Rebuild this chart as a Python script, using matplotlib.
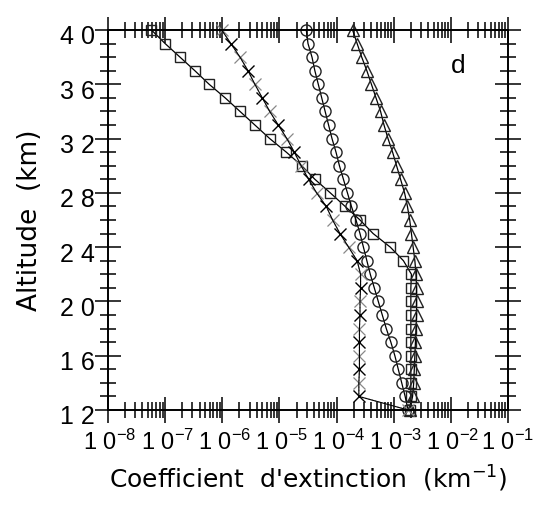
"""Profils de coefficient d'extinction (panneau d)."""
import numpy as np
import matplotlib
matplotlib.use("Agg")
import matplotlib.pyplot as plt
import matplotlib.transforms as mtransforms
from matplotlib.ticker import FixedLocator, LogLocator, NullFormatter

plt.rcParams["font.family"] = ["Liberation Sans", "DejaVu Sans"]
plt.rcParams["mathtext.default"] = "regular"

# altitudes (km), 40 -> 12 km par pas de 1 km
alt = list(range(40, 11, -1))

# log10 du coefficient d'extinction (km-1)
log_carres = [-7.24, -7.00, -6.74, -6.48, -6.23, -5.95, -5.69, -5.43, -5.17, -4.88,
              -4.61, -4.38, -4.11, -3.85, -3.59, -3.36, -3.06, -2.83, -2.69, -2.70,
              -2.70, -2.70, -2.70, -2.70, -2.70, -2.70, -2.70, -2.70, -2.71]
log_croix = [-6.01, -5.85, -5.69, -5.55, -5.43, -5.30, -5.17, -5.02, -4.87, -4.74,
             -4.62, -4.49, -4.35, -4.18, -4.07, -3.94, -3.79, -3.64, -3.58, -3.58,
             -3.59, -3.59, -3.60, -3.60, -3.60, -3.60, -3.61, -3.61, -2.75]
log_cercles = [-4.53, -4.50, -4.43, -4.38, -4.32, -4.26, -4.20, -4.14, -4.08, -4.01,
               -3.95, -3.88, -3.81, -3.74, -3.66, -3.59, -3.53, -3.47, -3.41, -3.34,
               -3.27, -3.20, -3.13, -3.05, -2.98, -2.92, -2.86, -2.80, -2.75]
log_triangles = [-3.72, -3.64, -3.56, -3.47, -3.39, -3.31, -3.23, -3.17, -3.10, -3.02,
                 -2.95, -2.88, -2.81, -2.76, -2.72, -2.69, -2.66, -2.63, -2.61, -2.60,
                 -2.60, -2.60, -2.61, -2.62, -2.63, -2.64, -2.65, -2.67, -2.72]

xticks = [1e-8, 1e-7, 1e-6, 1e-5, 1e-4, 1e-3, 1e-2, 1e-1]
xlabels = ["1 0$^{-8}$", "1 0$^{-7}$", "1 0$^{-6}$", "1 0$^{-5}$",
           "1 0$^{-4}$", "1 0$^{-3}$", "1 0$^{-2}$", "1 0$^{-1}$"]
yticks = [12, 16, 20, 24, 28, 32, 36, 40]
ylabels = ["1 2", "1 6", "2 0", "2 4", "2 8", "3 2", "3 6", "4 0"]

fig = plt.figure(figsize=(5.38, 5.11), dpi=100)
ax = fig.add_axes([108 / 538, 1 - 410 / 511, 400 / 538, 380 / 511])

alt = np.array(alt)
carres = 10 ** np.array(log_carres)
croix = 10 ** np.array(log_croix)
cercles = 10 ** np.array(log_cercles)
triangles = 10 ** np.array(log_triangles)

mk = dict(mfc="none", mew=1.0, lw=0.9, color="black", clip_on=False)
ax.plot(carres, alt, marker="s", ms=7.5, mec="#222222", **mk)
ax.plot(cercles, alt, marker="o", ms=8, mec="#222222", **mk)
ax.plot(triangles, alt, marker="^", ms=8.5, mec="#222222", **mk)
# croix : deux tracés qui se superposent (noir plein / gris pointillé)
ax.plot(croix, alt, color="#999999", lw=0.9, ls=":", clip_on=False)
ax.plot(croix[::2], alt[::2], marker="x", ms=8, mew=0.9, ls="none",
        color="#888888", clip_on=False)
ax.plot(croix, alt, color="black", lw=0.8, clip_on=False)
ax.plot(croix[1::2], alt[1::2], marker="x", ms=8, mew=1.0, ls="none",
        color="black", clip_on=False)

ax.set_xscale("log")
ax.set_xlim(1e-8, 1e-1)
ax.set_ylim(12, 40)

ax.xaxis.set_major_locator(FixedLocator(xticks))
ax.set_xticklabels(xlabels)
ax.xaxis.set_minor_locator(LogLocator(base=10, subs=np.arange(2, 10), numticks=20))
ax.xaxis.set_minor_formatter(NullFormatter())
ax.set_yticks(yticks)
ax.set_yticklabels(ylabels)
ax.yaxis.set_minor_locator(FixedLocator(range(12, 41)))

ax.tick_params(which="both", direction="inout", top=True, right=True,
               width=1.1, color="black")
ax.tick_params(which="major", length=19)
ax.tick_params(which="minor", length=12)
ax.tick_params(axis="x", which="major", pad=5, labelsize=17)
ax.tick_params(axis="y", which="major", pad=0, labelsize=18)
for s in ax.spines.values():
    s.set_linewidth(1.4)

# petit décalage des étiquettes comme sur l'original
# (sauf la dernière, qui toucherait le bord droit)
dx = mtransforms.ScaledTranslation(2 / 100, 0, fig.dpi_scale_trans)
for lab in ax.get_xticklabels()[:-1]:
    lab.set_transform(lab.get_transform() + dx)
dy = mtransforms.ScaledTranslation(0, -5 / 100, fig.dpi_scale_trans)
for lab in ax.get_yticklabels():
    lab.set_transform(lab.get_transform() + dy)

ax.text(0.875, 0.905, "d", transform=ax.transAxes, fontsize=19,
        ha="center", va="center")

ax.set_xlabel("Coefficient  d'extinction  (km$^{-1}$)", fontsize=18,
              family="DejaVu Sans", labelpad=6)
ax.set_ylabel("Altitude  (km)", fontsize=19, family="DejaVu Sans", labelpad=12)

fig.savefig("out.png", dpi=100, facecolor="white")
